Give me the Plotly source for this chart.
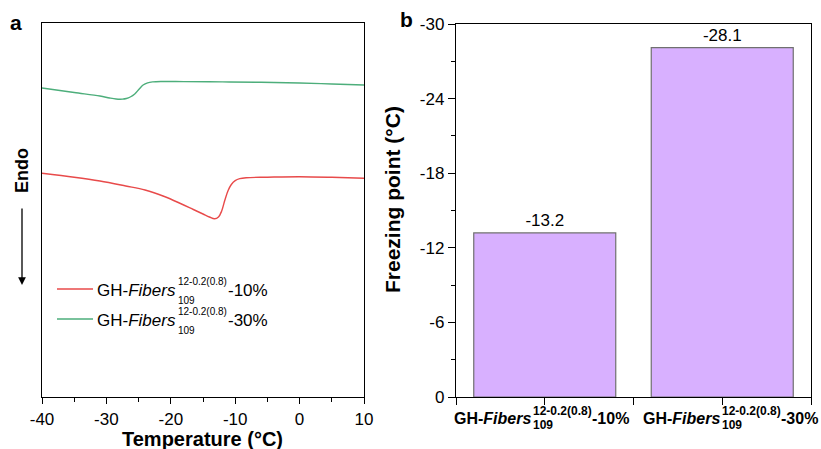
import plotly.graph_objects as go

# ---------------- data ----------------
# panel a: DSC curves (heat flow, arbitrary units)
temp_red = [-40, -35, -31, -27, -24, -21, -18.5, -16.5, -15, -14, -13.2, -12.6, -12.1,
            -11.6, -11.1, -10.6, -10.0, -9.3, -8.3, -5, 0, 5, 10]
heat_red = [2.237, 2.198, 2.16, 2.11, 2.07, 2.005, 1.935, 1.875, 1.83, 1.80, 1.782, 1.80,
            1.86, 1.97, 2.065, 2.125, 2.163, 2.183, 2.193, 2.198, 2.203, 2.197, 2.187]

temp_green = [-40, -35, -31, -29.5, -28.5, -27.5, -26.9, -26.3, -25.6, -24.9, -24.3,
              -23.6, -22.8, -21.5, -18, -12, -6, 0, 5, 10]
heat_green = [3.09, 3.045, 3.01, 2.99, 2.98, 2.979, 2.985, 3.0, 3.03, 3.08, 3.12,
              3.142, 3.151, 3.155, 3.154, 3.151, 3.147, 3.14, 3.13, 3.12]

series_names = ["-10%", "-30%"]

# panel b: freezing points
bar_categories = ["GH-Fibers-10%", "GH-Fibers-30%"]
freezing_points = [-13.2, -28.1]
bar_labels = ["-13.2", "-28.1"]
label_suffix = ["-10%", "-30%"]

x_ticks_a = [-40, -30, -20, -10, 0, 10]
x_ticktext_a = ["-40", "-30", "-20", "-10", "0", "10"]
y_ticks_b = [0, -6, -12, -18, -24, -30]
y_ticktext_b = ["0", "-6", "-12", "-18", "-24", "-30"]

# ---------------- styles ----------------
W, H = 821, 449
FONT = "Arial, Liberation Sans, sans-serif"
RED = "#E84A4A"
GREEN = "#4DAE7B"
BAR_FILL = "#D8B0FF"
BAR_LINE = "#707070"


def px_x(p):
    return p / W


def px_y(p):
    return 1 - p / H


fig = go.Figure()

fig.add_trace(go.Scatter(x=temp_red, y=heat_red, mode="lines", name=series_names[0],
                         line=dict(color=RED, width=1.4, shape="spline", smoothing=1.0),
                         xaxis="x", yaxis="y", showlegend=False))
fig.add_trace(go.Scatter(x=temp_green, y=heat_green, mode="lines", name=series_names[1],
                         line=dict(color=GREEN, width=1.4, shape="spline", smoothing=1.0),
                         xaxis="x", yaxis="y", showlegend=False))

fig.add_trace(go.Bar(x=[0, 1], y=freezing_points, width=0.8,
                     marker=dict(color=BAR_FILL, line=dict(color=BAR_LINE, width=1.2)),
                     text=bar_labels, textposition="outside", cliponaxis=False,
                     textfont=dict(family=FONT, size=17, color="black"),
                     xaxis="x2", yaxis="y2", showlegend=False))

axis_common = dict(showline=True, linecolor="black", linewidth=1.4, mirror=True,
                   showgrid=False, zeroline=False, automargin=False)

fig.update_layout(
    width=W, height=H,
    margin=dict(l=0, r=0, t=0, b=0),
    paper_bgcolor="white", plot_bgcolor="white",
    font=dict(family=FONT, color="black"),
    bargap=0.2,
    xaxis=dict(domain=[px_x(42), px_x(364)], range=[-40, 10], tickmode="array",
               tickvals=x_ticks_a, ticktext=x_ticktext_a, ticks="outside", ticklen=6,
               tickwidth=1.3, tickcolor="black", tickfont=dict(size=17),
               minor=dict(tickmode="array", tickvals=[-35, -25, -15, -5, 5],
                          ticks="outside", ticklen=4, tickcolor="black"),
               **axis_common),
    yaxis=dict(domain=[px_y(397), px_y(23)], range=[0, 3.74], showticklabels=False,
               ticks="", anchor="x", **axis_common),
    xaxis2=dict(domain=[px_x(456), px_x(811)], range=[-0.5, 1.5], anchor="y2",
                tickmode="array", tickvals=[-0.5, 0, 0.5, 1, 1.5],
                ticktext=["", "", "", "", ""], ticks="outside", ticklen=7,
                tickwidth=1.3, tickcolor="black", **axis_common),
    yaxis2=dict(domain=[px_y(397), px_y(24)], range=[0, -30], anchor="x2",
                tickmode="array", tickvals=y_ticks_b, ticktext=y_ticktext_b,
                ticks="outside", ticklen=7,
                tickwidth=1.3, tickcolor="black", tickfont=dict(size=17),
                minor=dict(tickmode="array", tickvals=[-3, -9, -15, -21, -27],
                           ticks="outside", ticklen=4, tickcolor="black"),
                **axis_common),
)

ann = []
# panel letters
ann.append(dict(text="<b>a</b>", x=px_x(16), y=px_y(23), xref="paper", yref="paper",
                showarrow=False, font=dict(size=21), xanchor="center", yanchor="middle"))
ann.append(dict(text="<b>b</b>", x=px_x(406), y=px_y(20), xref="paper", yref="paper",
                showarrow=False, font=dict(size=21), xanchor="center", yanchor="middle"))
# axis titles
ann.append(dict(text="<b>Temperature (°C)</b>", x=px_x(202), y=px_y(439), xref="paper",
                yref="paper", showarrow=False, font=dict(size=20),
                xanchor="center", yanchor="middle"))
ann.append(dict(text="<b>Freezing point (°C)</b>", x=px_x(392), y=px_y(200), xref="paper",
                yref="paper", showarrow=False, font=dict(size=21), textangle=-90,
                xanchor="center", yanchor="middle"))
ann.append(dict(text="<b>Endo</b>", x=px_x(22), y=px_y(171), xref="paper", yref="paper",
                showarrow=False, font=dict(size=18), textangle=-90,
                xanchor="center", yanchor="middle"))
# Endo arrow
ann.append(dict(text="", x=px_x(22), y=px_y(285), xref="paper", yref="paper",
                showarrow=True, ax=0, ay=-78, axref="pixel", ayref="pixel",
                arrowhead=2, arrowsize=1.2, arrowwidth=1.3, arrowcolor="black"))

# legend (drawn manually so the sub/superscript can be stacked)
legend_rows_y = [289, 319]
legend_colors = [RED, GREEN]
shapes = []
for i, yy in enumerate(legend_rows_y):
    shapes.append(dict(type="line", xref="paper", yref="paper",
                       x0=px_x(57), x1=px_x(93), y0=px_y(yy), y1=px_y(yy),
                       line=dict(color=legend_colors[i], width=1.4)))
    ann.append(dict(text="GH-<i>Fibers</i>", x=px_x(177), y=px_y(yy + 1), xref="paper",
                    yref="paper", showarrow=False, font=dict(size=17),
                    xanchor="right", yanchor="middle", borderpad=0))
    ann.append(dict(text="12-0.2(0.8)", x=px_x(177), y=px_y(yy - 8), xref="paper",
                    yref="paper", showarrow=False, font=dict(size=10),
                    xanchor="left", yanchor="middle", borderpad=0))
    ann.append(dict(text="109", x=px_x(177), y=px_y(yy + 11), xref="paper",
                    yref="paper", showarrow=False, font=dict(size=10),
                    xanchor="left", yanchor="middle", borderpad=0))
    ann.append(dict(text=label_suffix[i], x=px_x(227), y=px_y(yy + 1), xref="paper",
                    yref="paper", showarrow=False, font=dict(size=17),
                    xanchor="left", yanchor="middle", borderpad=0))

# bar category labels (stacked sub/superscript)
label_offsets = [-13, -1]
for i, off in enumerate(label_offsets):
    ann.append(dict(text="<b>GH-<i>Fibers</i></b>", x=i, xshift=off, y=px_y(418),
                    xref="x2", yref="paper", showarrow=False, font=dict(size=16),
                    xanchor="right", yanchor="middle", borderpad=0))
    ann.append(dict(text="<b>12-0.2(0.8)</b>", x=i, xshift=off, y=px_y(411),
                    xref="x2", yref="paper", showarrow=False, font=dict(size=12),
                    xanchor="left", yanchor="middle", borderpad=0))
    ann.append(dict(text="<b>109</b>", x=i, xshift=off, y=px_y(425),
                    xref="x2", yref="paper", showarrow=False, font=dict(size=12),
                    xanchor="left", yanchor="middle", borderpad=0))
    ann.append(dict(text="<b>" + label_suffix[i] + "</b>", x=i, xshift=off + 59,
                    y=px_y(418), xref="x2", yref="paper", showarrow=False,
                    font=dict(size=16), xanchor="left", yanchor="middle", borderpad=0))

fig.update_layout(annotations=ann, shapes=shapes)

fig.write_html("out.html")
